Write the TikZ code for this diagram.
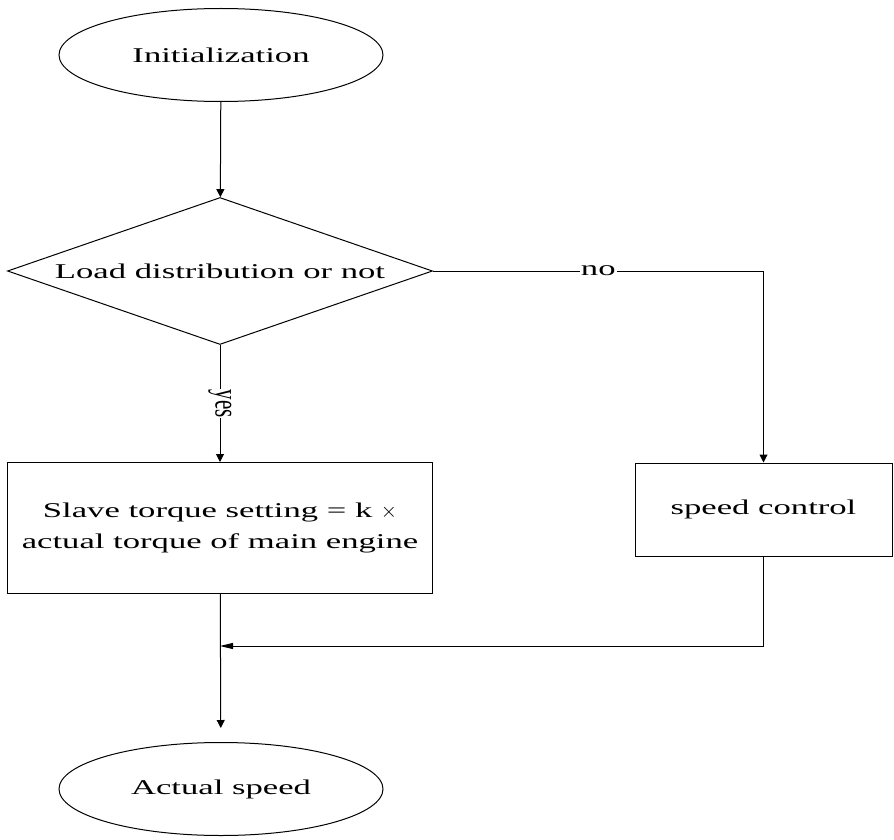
\documentclass[tikz,border=0pt]{standalone}
\usepackage{fontspec}
\setmainfont{Liberation Serif}[FakeStretch=1.65]
\newfontfamily\narrowserif{Liberation Serif}
\usetikzlibrary{shapes.geometric, arrows.meta, positioning, calc}

\begin{document}
\begin{tikzpicture}[x=1pt, y=-1pt, font=\fontsize{21}{31}\selectfont]
        \tikzstyle{startstop} = [ellipse, draw=black, line width=1pt, inner sep=0pt, minimum width=324pt, minimum height=93pt, text centered]
        \tikzstyle{decision} = [diamond, aspect=2.9, draw=black, line width=1pt, inner sep=0pt, minimum width=425pt, minimum height=147pt, text centered]
        \tikzstyle{process} = [rectangle, draw=black, line width=1pt, inner sep=0pt, text centered, align=center]
        \tikzstyle{arrow} = [line width=1pt, -{Triangle[length=8pt, width=8pt]}]
        \tikzstyle{harrow} = [line width=1pt, -{Triangle[length=13pt, width=6pt]}]
        \tikzstyle{answer} = [fill=white, inner sep=1pt]

        \useasboundingbox (0,0) rectangle (894,840);

        \node (init) [startstop] at (221,55) {Initialization};
        \node (dec) [decision] at (220,271) {Load distribution or not};
        \node (slave) [process, minimum width=425pt, minimum height=131pt] at (220,528) {Slave torque setting = k $\times$\\actual torque of main engine};
        \node (speed) [process, minimum width=257pt, minimum height=93pt] at (763.5,509.5) {speed control};
        \node (actual) [startstop] at (221,789) {Actual speed};
        \coordinate (join) at (220,646);

        \draw [arrow] (init) -- (dec);
        \draw [arrow] (dec) -- node [answer, font=\narrowserif\fontsize{21}{25}\selectfont, xscale=1.6, rotate=-90] {yes} (slave);
        \draw [arrow] (dec.east) -- node [answer] {no} (dec.east -| speed) -- (speed);
        \draw [arrow, shorten >=14pt] (slave) -- (actual);
        \draw [harrow] (speed) |- (join);
    \end{tikzpicture}
\end{document}
